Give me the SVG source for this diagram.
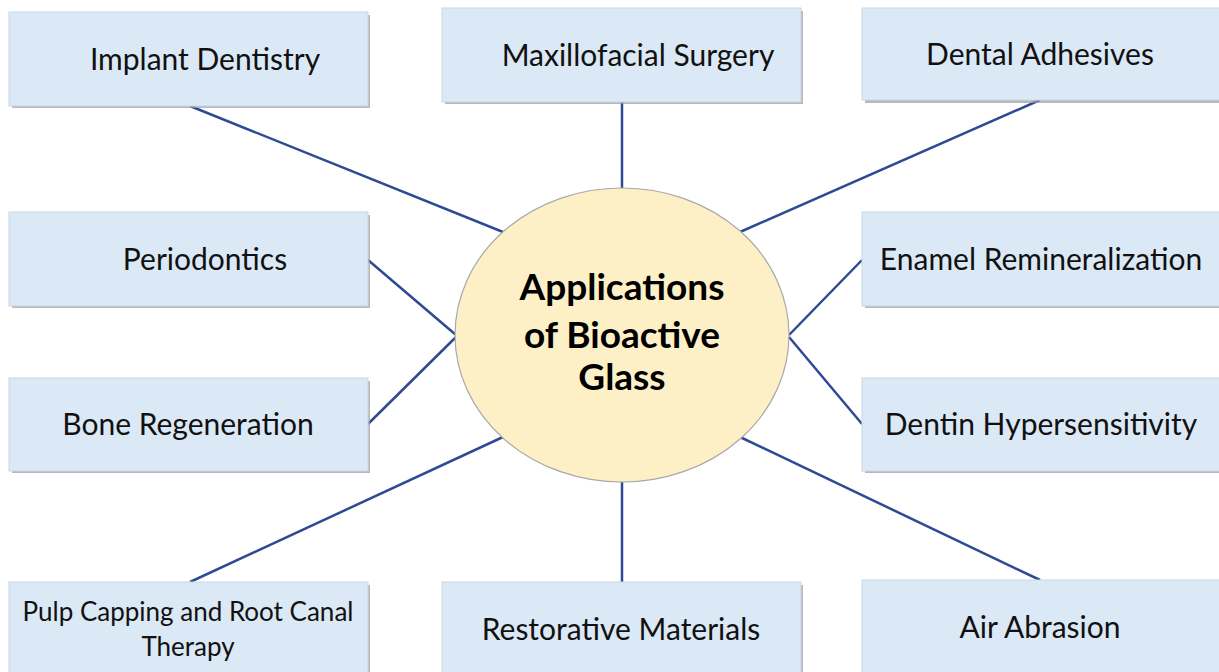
<svg xmlns="http://www.w3.org/2000/svg" width="1219" height="672" viewBox="0 0 1219 672">
  <style>
    .box { fill: #dbe8f5; stroke: #c9d6e4; stroke-width: 1; }
    .shadow { fill: #9a9a9a; opacity: 0.7; }
    .lbl { font-family: Lato, "Open Sans", sans-serif; font-size: 30px; fill: #111; text-anchor: middle; }
    .lbl-sm { font-size: 26px; }
    .hub { fill: #fdefc6; stroke: #a8a8a8; stroke-width: 1.2; }
    .hub-txt { font-family: Lato, "Open Sans", sans-serif; font-weight: bold; font-size: 37px; fill: #000; text-anchor: middle; }
    .link { stroke: #2e4a94; stroke-width: 2.5; fill: none; }
  </style>
  <rect width="1219" height="672" fill="#ffffff"/>

  <g id="connectors">
    <line class="link" x1="190" y1="106" x2="503" y2="232"/>
    <line class="link" x1="622" y1="102" x2="622" y2="189"/>
    <line class="link" x1="1040" y1="100" x2="740" y2="232"/>
    <line class="link" x1="368" y1="260" x2="456" y2="335"/>
    <line class="link" x1="368" y1="424" x2="456" y2="337"/>
    <line class="link" x1="862" y1="260" x2="789" y2="335"/>
    <line class="link" x1="862" y1="424" x2="789" y2="337"/>
    <line class="link" x1="190" y1="582" x2="503" y2="437"/>
    <line class="link" x1="622" y1="480" x2="622" y2="582"/>
    <line class="link" x1="1040" y1="580" x2="740" y2="437"/>
  </g>

  <g id="implant-dentistry">
    <rect class="shadow" x="12" y="15" width="358" height="93"/>
    <rect class="box" x="9" y="12" width="359" height="94"/>
    <text class="lbl" x="205" y="70">Implant Dentistry</text>
  </g>
  <g id="maxillofacial-surgery">
    <rect class="shadow" x="445" y="11" width="358" height="93"/>
    <rect class="box" x="442" y="8" width="359" height="94"/>
    <text class="lbl" x="638" y="66">Maxillofacial Surgery</text>
  </g>
  <g id="dental-adhesives">
    <rect class="shadow" x="865" y="11" width="358" height="92"/>
    <rect class="box" x="862" y="8" width="359" height="92"/>
    <text class="lbl" x="1040" y="65">Dental Adhesives</text>
  </g>
  <g id="periodontics">
    <rect class="shadow" x="12" y="215" width="358" height="93"/>
    <rect class="box" x="9" y="212" width="359" height="94"/>
    <text class="lbl" x="205" y="270">Periodontics</text>
  </g>
  <g id="enamel-remineralization">
    <rect class="shadow" x="865" y="215" width="358" height="93"/>
    <rect class="box" x="862" y="212" width="359" height="94"/>
    <text class="lbl" x="1041" y="270">Enamel Remineralization</text>
  </g>
  <g id="bone-regeneration">
    <rect class="shadow" x="12" y="381" width="358" height="92"/>
    <rect class="box" x="9" y="378" width="359" height="93"/>
    <text class="lbl" x="188" y="435">Bone Regeneration</text>
  </g>
  <g id="dentin-hypersensitivity">
    <rect class="shadow" x="865" y="381" width="358" height="92"/>
    <rect class="box" x="862" y="378" width="359" height="93"/>
    <text class="lbl" x="1041" y="435">Dentin Hypersensitivity</text>
  </g>
  <g id="pulp-capping">
    <rect class="shadow" x="12" y="585" width="358" height="92"/>
    <rect class="box" x="9" y="582" width="359" height="95"/>
    <text class="lbl lbl-sm" x="188" y="621">Pulp Capping and Root Canal</text>
    <text class="lbl lbl-sm" x="188" y="656">Therapy</text>
  </g>
  <g id="restorative-materials">
    <rect class="shadow" x="445" y="585" width="358" height="92"/>
    <rect class="box" x="442" y="582" width="359" height="95"/>
    <text class="lbl" x="621" y="640">Restorative Materials</text>
  </g>
  <g id="air-abrasion">
    <rect class="shadow" x="865" y="583" width="358" height="94"/>
    <rect class="box" x="862" y="580" width="359" height="97"/>
    <text class="lbl" x="1040" y="638">Air Abrasion</text>
  </g>

  <g id="hub">
    <ellipse class="hub" cx="622" cy="335" rx="167" ry="147"/>
    <text class="hub-txt" x="622" y="300">Applications</text>
    <text class="hub-txt" x="622" y="348">of Bioactive</text>
    <text class="hub-txt" x="622" y="390">Glass</text>
  </g>
</svg>
